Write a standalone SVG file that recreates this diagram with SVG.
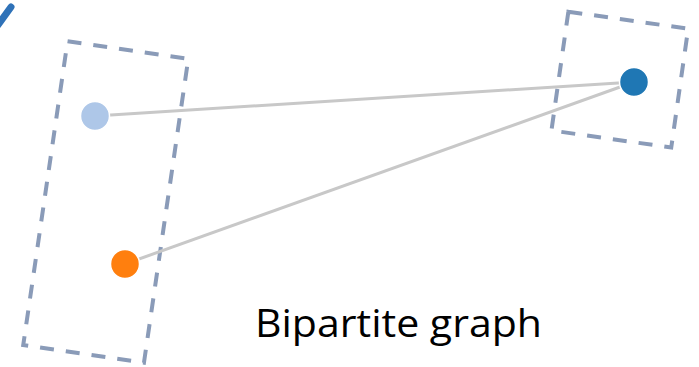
<svg xmlns="http://www.w3.org/2000/svg" width="699" height="367" viewBox="0 0 699 367">
<style>
.box{fill:none;stroke:#8a9bb8;stroke-width:4;stroke-dasharray:14 12}
.link{stroke:#c8c8c8;stroke-width:3;fill:none}
.node{stroke:#fff;stroke-width:1.5}
.label{font-family:"Open Sans","Noto Sans",sans-serif;font-size:38px;fill:#000}
</style>
<rect width="699" height="367" fill="#fff"/>
<line x1="-2" y1="25" x2="11" y2="7" stroke="#2f72b8" stroke-width="7" stroke-linecap="round"/>
<g id="group-left">
<rect class="box" x="-61" y="-153.5" width="122" height="307" transform="translate(105.75 202) rotate(8.3)"/>
</g>
<g id="group-right">
<rect class="box" x="-60.5" y="-60" width="121" height="120" transform="translate(619.8 79.6) rotate(8.1)"/>
</g>
<g id="connectors">
<line class="link" x1="95" y1="116" x2="634" y2="82"/>
<line class="link" x1="125" y1="264" x2="634" y2="82"/>
</g>
<g id="node-a"><circle class="node" cx="95" cy="116" r="14.5" fill="#aec7e8"/></g>
<g id="node-b"><circle class="node" cx="125" cy="264" r="14.5" fill="#ff7f0e"/></g>
<g id="node-c"><circle class="node" cx="634" cy="82" r="14.5" fill="#1f77b4"/></g>
<text class="label" x="255" y="337" textLength="287" lengthAdjust="spacingAndGlyphs">Bipartite graph</text>
</svg>
